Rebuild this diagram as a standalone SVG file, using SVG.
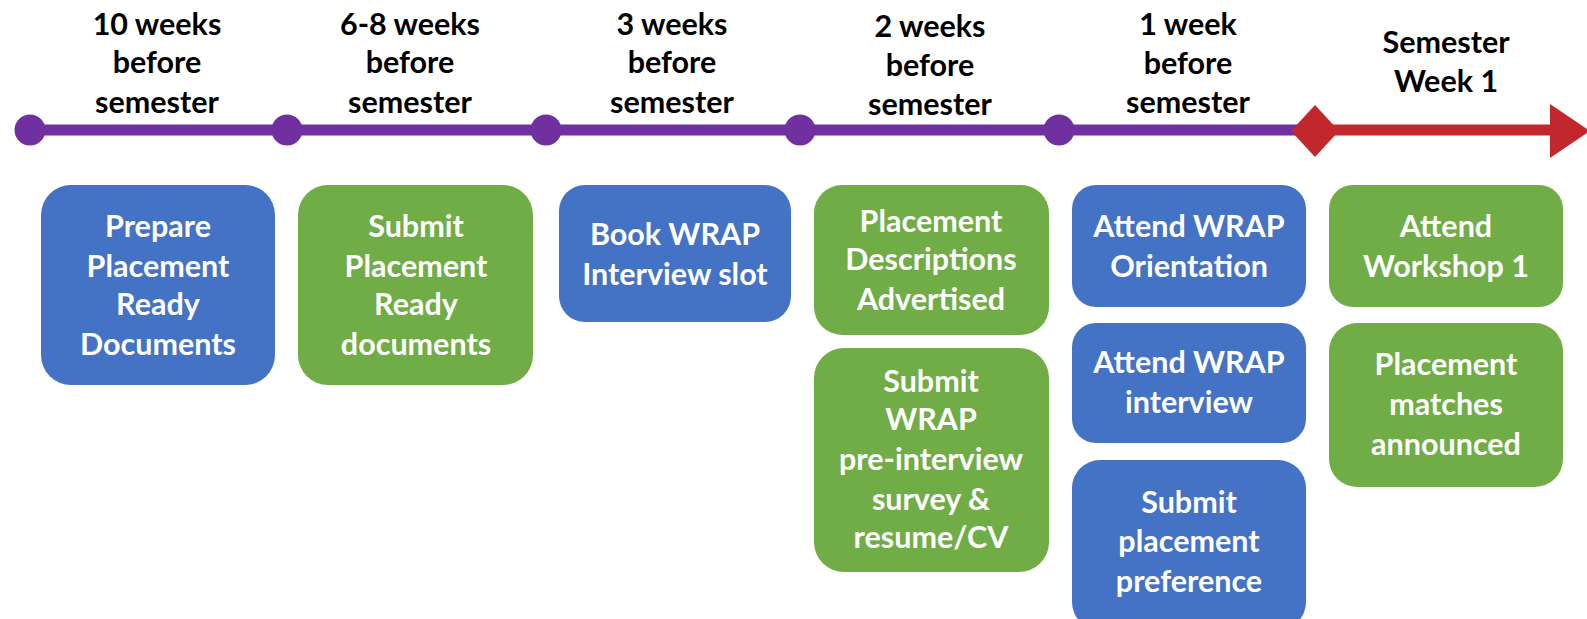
<svg xmlns="http://www.w3.org/2000/svg" width="1587" height="619" viewBox="0 0 1587 619">
<style>
.hdr{font-family:Lato,"Liberation Sans",sans-serif;font-weight:bold;font-size:30.5px;fill:#000;text-anchor:middle}
.bt{font-family:Lato,"Liberation Sans",sans-serif;font-weight:bold;font-size:30.5px;fill:#fff;text-anchor:middle}
.blue{fill:#4472C4}
.green{fill:#70AD47}
.dot{fill:#7030A0}
</style>
<rect width="1587" height="619" fill="#fff"/>
<g id="timeline">
<line x1="30" y1="130" x2="1315" y2="130" stroke="#7030A0" stroke-width="11"/>
<line x1="1315" y1="130" x2="1555" y2="130" stroke="#C1272D" stroke-width="11"/>
<polygon points="1550,104 1590,131 1550,158" fill="#C1272D"/>
<circle class="dot" cx="30" cy="130" r="15.5"/>
<circle class="dot" cx="287" cy="130" r="15.5"/>
<circle class="dot" cx="546" cy="130" r="15.5"/>
<circle class="dot" cx="800" cy="130" r="15.5"/>
<circle class="dot" cx="1059" cy="130" r="15.5"/>
<polygon points="1315,105 1339,131 1315,157 1291,131" fill="#C1272D"/>
</g>
<g id="headers">
<text class="hdr" x="157"><tspan x="157" y="35">10 weeks</tspan><tspan x="157" y="73">before</tspan><tspan x="157" y="113">semester</tspan></text>
<text class="hdr" x="410"><tspan x="410" y="35">6-8 weeks</tspan><tspan x="410" y="73">before</tspan><tspan x="410" y="113">semester</tspan></text>
<text class="hdr" x="672"><tspan x="672" y="35">3 weeks</tspan><tspan x="672" y="73">before</tspan><tspan x="672" y="113">semester</tspan></text>
<text class="hdr" x="930"><tspan x="930" y="37">2 weeks</tspan><tspan x="930" y="76">before</tspan><tspan x="930" y="115">semester</tspan></text>
<text class="hdr" x="1188"><tspan x="1188" y="35">1 week</tspan><tspan x="1188" y="74">before</tspan><tspan x="1188" y="113">semester</tspan></text>
<text class="hdr" x="1446"><tspan x="1446" y="53">Semester</tspan><tspan x="1446" y="92">Week 1</tspan></text>
</g>
<g id="n1"><rect class="blue" x="41" y="185" width="234" height="200" rx="30"/>
<text class="bt"><tspan x="158" y="237">Prepare</tspan><tspan x="158" y="277">Placement</tspan><tspan x="158" y="315">Ready</tspan><tspan x="158" y="355">Documents</tspan></text></g>
<g id="n2"><rect class="green" x="298" y="185" width="235" height="200" rx="30"/>
<text class="bt"><tspan x="416" y="237">Submit</tspan><tspan x="416" y="277">Placement</tspan><tspan x="416" y="315">Ready</tspan><tspan x="416" y="355">documents</tspan></text></g>
<g id="n3"><rect class="blue" x="559" y="185" width="232" height="137" rx="26"/>
<text class="bt"><tspan x="675" y="245">Book WRAP</tspan><tspan x="675" y="285">Interview slot</tspan></text></g>
<g id="n4"><rect class="green" x="814" y="185" width="235" height="150" rx="28"/>
<text class="bt"><tspan x="931" y="232">Placement</tspan><tspan x="931" y="270">Descriptions</tspan><tspan x="931" y="310">Advertised</tspan></text></g>
<g id="n5"><rect class="green" x="814" y="348" width="235" height="224" rx="30"/>
<text class="bt"><tspan x="931" y="392">Submit</tspan><tspan x="931" y="430">WRAP</tspan><tspan x="931" y="470">pre-interview</tspan><tspan x="931" y="510">survey &amp;</tspan><tspan x="931" y="548">resume/CV</tspan></text></g>
<g id="n6"><rect class="blue" x="1072" y="185" width="234" height="122" rx="24"/>
<text class="bt"><tspan x="1189" y="237">Attend WRAP</tspan><tspan x="1189" y="277">Orientation</tspan></text></g>
<g id="n7"><rect class="blue" x="1072" y="323" width="234" height="120" rx="24"/>
<text class="bt"><tspan x="1189" y="373">Attend WRAP</tspan><tspan x="1189" y="413">interview</tspan></text></g>
<g id="n8"><rect class="blue" x="1072" y="460" width="234" height="170" rx="28"/>
<text class="bt"><tspan x="1189" y="513">Submit</tspan><tspan x="1189" y="552">placement</tspan><tspan x="1189" y="592">preference</tspan></text></g>
<g id="n9"><rect class="green" x="1329" y="185" width="234" height="122" rx="24"/>
<text class="bt"><tspan x="1446" y="237">Attend</tspan><tspan x="1446" y="277">Workshop 1</tspan></text></g>
<g id="n10"><rect class="green" x="1329" y="323" width="234" height="164" rx="28"/>
<text class="bt"><tspan x="1446" y="375">Placement</tspan><tspan x="1446" y="415">matches</tspan><tspan x="1446" y="455">announced</tspan></text></g>
<g id="connectors"></g>
</svg>
